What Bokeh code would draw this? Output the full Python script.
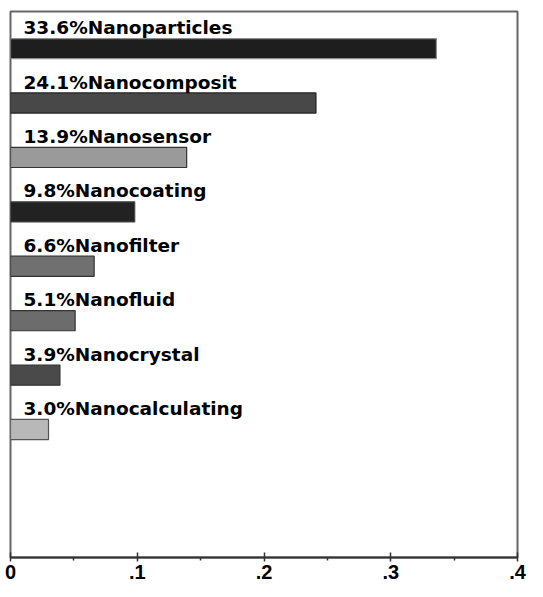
from bokeh.plotting import figure
from bokeh.models import Range1d, FixedTicker, ColumnDataSource
from bokeh.core.properties import value
from bokeh.embed import file_html
from bokeh.resources import INLINE

# ---- data ----
categories = ["Nanoparticles", "Nanocomposit", "Nanosensor", "Nanocoating",
              "Nanofilter", "Nanofluid", "Nanocrystal", "Nanocalculating"]
percentages = [33.6, 24.1, 13.9, 9.8, 6.6, 5.1, 3.9, 3.0]
tick_values = [0, 0.1, 0.2, 0.3, 0.4]
tick_labels = ["0", ".1", ".2", ".3", ".4"]
minor_tick_values = [0.05, 0.15, 0.25, 0.35]

# ---- styles ----
fill_colors = ["#1e1e1e", "#484848", "#9a9a9a", "#222222",
               "#707070", "#6c6c6c", "#4a4a4a", "#b8b8b8"]
line_colors = ["#8c8c8c", "#222222", "#333333", "#444444",
               "#333333", "#333333", "#333333", "#555555"]

shares = [p_ / 100.0 for p_ in percentages]
positions = list(range(len(categories)))
labels = [f"{p_:.1f}%{c}" for p_, c in zip(percentages, categories)]

src = ColumnDataSource(dict(y=positions, right=shares, left=[0] * len(shares),
                            fill=fill_colors, line=line_colors, label=labels))

p = figure(width=527, height=581, output_backend="svg", toolbar_location=None,
           x_range=Range1d(0, 0.4), y_range=Range1d(9.353, -0.6825),
           y_axis_location=None, x_axis_location="below",
           min_border_left=10, min_border_right=10, min_border_top=11,
           min_border_bottom=20)

p.hbar(y="y", left="left", right="right", height=0.37, source=src,
       fill_color="fill", line_color="line", line_width=1.2)

p.text(x="left", y="y", text="label", source=src,
       text_font=value("DejaVu Sans"), text_font_style="bold",
       text_font_size="18.5px", text_color="black",
       text_baseline="alphabetic", text_align="left",
       x_offset=13, y_offset=-21)

p.grid.visible = False
p.background_fill_color = "white"
p.border_fill_color = "white"
p.outline_line_color = "#666666"
p.outline_line_width = 2

ax = p.xaxis[0]
ax.ticker = FixedTicker(ticks=tick_values, minor_ticks=minor_tick_values)
ax.major_label_overrides = {v: l for v, l in zip(tick_values, tick_labels)}
ax.major_label_text_font = "Liberation Sans"
ax.major_label_text_font_style = "bold"
ax.major_label_text_font_size = "20px"
ax.major_label_text_color = "black"
ax.major_label_standoff = 3
ax.axis_line_color = "#333333"
ax.axis_line_width = 2
ax.major_tick_in = 5
ax.major_tick_out = 4
ax.major_tick_line_color = "#333333"
ax.major_tick_line_width = 1.5
ax.minor_tick_in = 0
ax.minor_tick_out = 3
ax.minor_tick_line_color = "#333333"
ax.minor_tick_line_width = 1.5

open("out.html", "w").write(file_html(p, INLINE))
